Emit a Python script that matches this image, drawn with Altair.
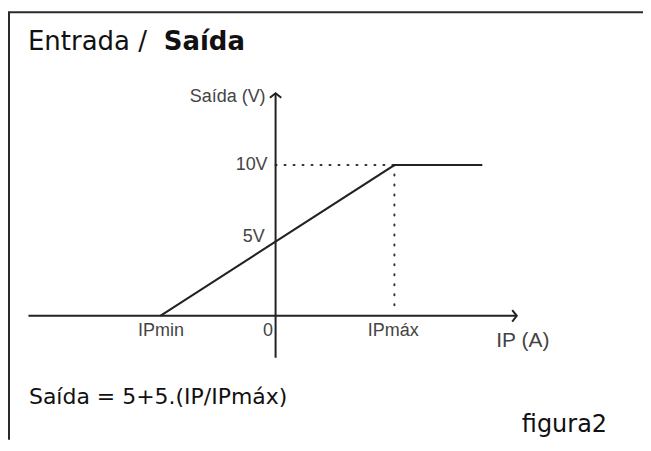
import altair as alt
import pandas as pd

# ---- data ----
ip_values = [-0.97, 1.0, 1.74]          # IP (in units of IPmáx)
out_values = [0.0, 10.0, 10.0]          # Saída (V)

x_axis_ip = [-2.08, 2.03]               # extent of the IP axis
y_axis_v = [-2.78, 14.77]               # extent of the Saída axis

ref_ip = 1.0                            # IPmáx
ref_v = 10.0                            # 10 V
ref_v_low = 0.7

tick_texts = ["IPmin", "0", "IPmáx"]
tick_ip = [-0.965, -0.063, 0.99]
tick_v = [-0.99, -0.99, -0.99]

ylab_texts = ["Saída (V)", "10V", "5V"]
ylab_ip = [-0.084, -0.067, -0.092]
ylab_v = [14.5, 10.0, 5.2]

xtitle_text = ["IP (A)"]
xtitle_ip = [1.857]
xtitle_v = [-1.66]

title_regular = "Entrada /"
title_bold = "Saída"
formula_text = "Saída = 5+5.(IP/IPmáx)"
figure_text = "figura2"

# ---- scales ----
W, H = 636, 432
XS = alt.Scale(domain=[-2.2521, 3.0924], nice=False, zero=False)
YS = alt.Scale(domain=[-8.2119, 20.397], nice=False, zero=False)

def X(f):
    return alt.X(f, type="quantitative", scale=XS, axis=None)

def Y(f):
    return alt.Y(f, type="quantitative", scale=YS, axis=None)

LINE = "#222222"
LABEL_FONT = "'Liberation Sans', Arial, sans-serif"
TEXT_FONT = "'DejaVu Sans', Verdana, sans-serif"
LABEL_COLOR = "#444444"

series = pd.DataFrame({"ip": ip_values, "v": out_values})
line = alt.Chart(series).mark_line(color=LINE, strokeWidth=2).encode(x=X("ip"), y=Y("v"))

xaxis_df = pd.DataFrame({"ip": [x_axis_ip[0]], "ip2": [x_axis_ip[1]], "v": [0.0]})
xaxis = alt.Chart(xaxis_df).mark_rule(color=LINE, strokeWidth=2).encode(
    x=X("ip"), x2="ip2", y=Y("v"))
yaxis_df = pd.DataFrame({"ip": [0.0], "v": [y_axis_v[0]], "v2": [y_axis_v[1]]})
yaxis = alt.Chart(yaxis_df).mark_rule(color=LINE, strokeWidth=2).encode(
    x=X("ip"), y=Y("v"), y2="v2")

arrow_r = alt.Chart(pd.DataFrame({"ip": [x_axis_ip[1]], "v": [0.0]})).mark_point(
    shape="M -0.8 -1 L 0 0 L -0.8 1", filled=False, size=130, strokeWidth=2,
    color=LINE, opacity=1).encode(x=X("ip"), y=Y("v"))
arrow_u = alt.Chart(pd.DataFrame({"ip": [0.0], "v": [y_axis_v[1]]})).mark_point(
    shape="M -1 0.8 L 0 0 L 1 0.8", filled=False, size=130, strokeWidth=2,
    color=LINE, opacity=1).encode(x=X("ip"), y=Y("v"))

dot_h = alt.Chart(pd.DataFrame({"ip": [0.0], "ip2": [ref_ip], "v": [ref_v]})).mark_rule(
    color="#333333", strokeWidth=2, strokeDash=[1, 8], strokeCap="round").encode(
    x=X("ip"), x2="ip2", y=Y("v"))
dot_v = alt.Chart(pd.DataFrame({"ip": [ref_ip], "v": [ref_v_low], "v2": [ref_v]})).mark_rule(
    color="#333333", strokeWidth=2, strokeDash=[1, 9], strokeCap="round").encode(
    x=X("ip"), y=Y("v"), y2="v2")

ticks = alt.Chart(pd.DataFrame({"t": tick_texts, "ip": tick_ip, "v": tick_v})).mark_text(
    font=LABEL_FONT, fontSize=18, color=LABEL_COLOR, align="center", baseline="middle").encode(
    x=X("ip"), y=Y("v"), text="t:N")
ylabs = alt.Chart(pd.DataFrame({"t": ylab_texts, "ip": ylab_ip, "v": ylab_v})).mark_text(
    font=LABEL_FONT, fontSize=18, color=LABEL_COLOR, align="right", baseline="middle").encode(
    x=X("ip"), y=Y("v"), text="t:N")
xtitle = alt.Chart(pd.DataFrame({"t": xtitle_text, "ip": xtitle_ip, "v": xtitle_v})).mark_text(
    font=LABEL_FONT, fontSize=21, color=LABEL_COLOR, align="left", baseline="middle").encode(
    x=X("ip"), y=Y("v"), text="t:N")

one = pd.DataFrame({"a": [0]})
border_top = alt.Chart(one).mark_rule(color="#2a2a2a", strokeWidth=2).encode(
    x=alt.value(0), x2=alt.value(W), y=alt.value(4))
border_left = alt.Chart(one).mark_rule(color="#2a2a2a", strokeWidth=2).encode(
    x=alt.value(1), y=alt.value(4), y2=alt.value(H))

t1 = alt.Chart(one).mark_text(font=TEXT_FONT, fontSize=26, color="#111111", align="left",
                              baseline="alphabetic").encode(
    x=alt.value(20), y=alt.value(42), text=alt.value(title_regular))
t2 = alt.Chart(one).mark_text(font=TEXT_FONT, fontSize=26, fontWeight="bold", color="#111111",
                              align="left", baseline="alphabetic").encode(
    x=alt.value(156), y=alt.value(42), text=alt.value(title_bold))
formula = alt.Chart(one).mark_text(font=TEXT_FONT, fontSize=22, color="#111111", align="left",
                                   baseline="alphabetic").encode(
    x=alt.value(21), y=alt.value(396), text=alt.value(formula_text))
figure = alt.Chart(one).mark_text(font=TEXT_FONT, fontSize=24, color="#111111", align="right",
                                  baseline="alphabetic").encode(
    x=alt.value(600), y=alt.value(424), text=alt.value(figure_text))

chart = alt.layer(
    border_top, border_left, dot_h, dot_v, xaxis, yaxis, arrow_r, arrow_u, line,
    ticks, ylabs, xtitle, t1, t2, formula, figure
).properties(
    width=W, height=H, padding=0, autosize=alt.AutoSizeParams(type="none"),
    background="white"
).configure_view(stroke=None)

chart.save("out.html", embed_options={"renderer": "svg", "actions": False})
